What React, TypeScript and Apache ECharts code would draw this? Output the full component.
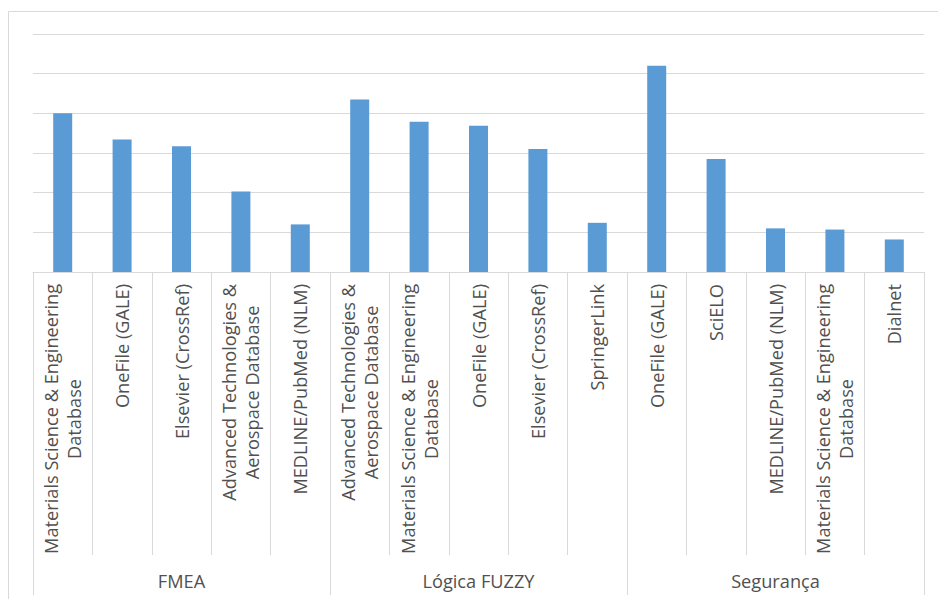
import React, { useEffect, useRef } from 'react';
import * as echarts from 'echarts';

const categories: string[] = [
  'Materials Science & Engineering\nDatabase',
  'OneFile (GALE)',
  'Elsevier (CrossRef)',
  'Advanced Technologies &\nAerospace Database',
  'MEDLINE/PubMed (NLM)',
  'Advanced Technologies &\nAerospace Database',
  'Materials Science & Engineering\nDatabase',
  'OneFile (GALE)',
  'Elsevier (CrossRef)',
  'SpringerLink',
  'OneFile (GALE)',
  'SciELO',
  'MEDLINE/PubMed (NLM)',
  'Materials Science & Engineering\nDatabase',
  'Dialnet',
];

const groups: string[] = ['FMEA', 'Lógica FUZZY', 'Segurança'];

const values: number[] = [40, 33.4, 31.7, 20.3, 12, 43.5, 37.9, 36.9, 31, 12.4, 52, 28.5, 11, 10.7, 8.2];

const yMin = 0;
const yMax = 60;
const yInterval = 10;

const FONT = '"Open Sans", "Noto Sans", sans-serif';
const TEXT = '#505050';
const LINE = '#d9d9d9';

export default function App() {
  const ref = useRef<HTMLDivElement>(null);
  useEffect(() => {
    const chart = echarts.init(ref.current as HTMLDivElement, null, { renderer: 'svg' });
    chart.setOption({
      animation: false,
      backgroundColor: '#ffffff',
      textStyle: { fontFamily: FONT },
      graphic: [
        {
          type: 'rect',
          silent: true,
          z: -10,
          shape: { x: 8.5, y: 11.5, width: 980, height: 640 },
          style: { fill: 'none', stroke: LINE, lineWidth: 1 },
        },
      ],
      grid: { left: 33, right: 14, top: 34, bottom: 327, containLabel: false },
      xAxis: [
        {
          type: 'category',
          data: categories,
          position: 'bottom',
          axisLine: { show: true, lineStyle: { color: LINE, width: 1 } },
          axisTick: { show: true, interval: 0, length: 283, lineStyle: { color: LINE } },
          axisLabel: {
            interval: 0,
            rotate: 90,
            margin: 12,
            color: TEXT,
            fontFamily: FONT,
            fontSize: 18.2,
            formatter: (v: string) => v.split('\n').map((l) => `{c|${l}}`).join('\n'),
            rich: {
              c: { align: 'center', fontSize: 18.2, lineHeight: 23, color: TEXT, fontFamily: FONT },
            },
          },
          splitLine: { show: false },
        },
        {
          type: 'category',
          data: groups,
          position: 'bottom',
          offset: 283,
          axisLine: { show: false },
          axisTick: { show: true, interval: 0, length: 40, lineStyle: { color: LINE } },
          axisLabel: { interval: 0, margin: 17, color: TEXT, fontFamily: FONT, fontSize: 18.2 },
          splitLine: { show: false },
        },
      ],
      yAxis: {
        type: 'value',
        min: yMin,
        max: yMax,
        interval: yInterval,
        axisLabel: { show: false },
        axisLine: { show: false },
        axisTick: { show: false },
        splitLine: { show: true, lineStyle: { color: LINE, width: 1 } },
      },
      series: [
        {
          type: 'bar',
          xAxisIndex: 0,
          data: values,
          barWidth: 19,
          itemStyle: { color: '#5b9bd5' },
        },
      ],
    });
    return () => chart.dispose();
  }, []);
  return (
    <div
      ref={ref}
      style={{ position: 'fixed', left: 0, top: 0, width: 938, height: 599, background: '#fff' }}
    />
  );
}
